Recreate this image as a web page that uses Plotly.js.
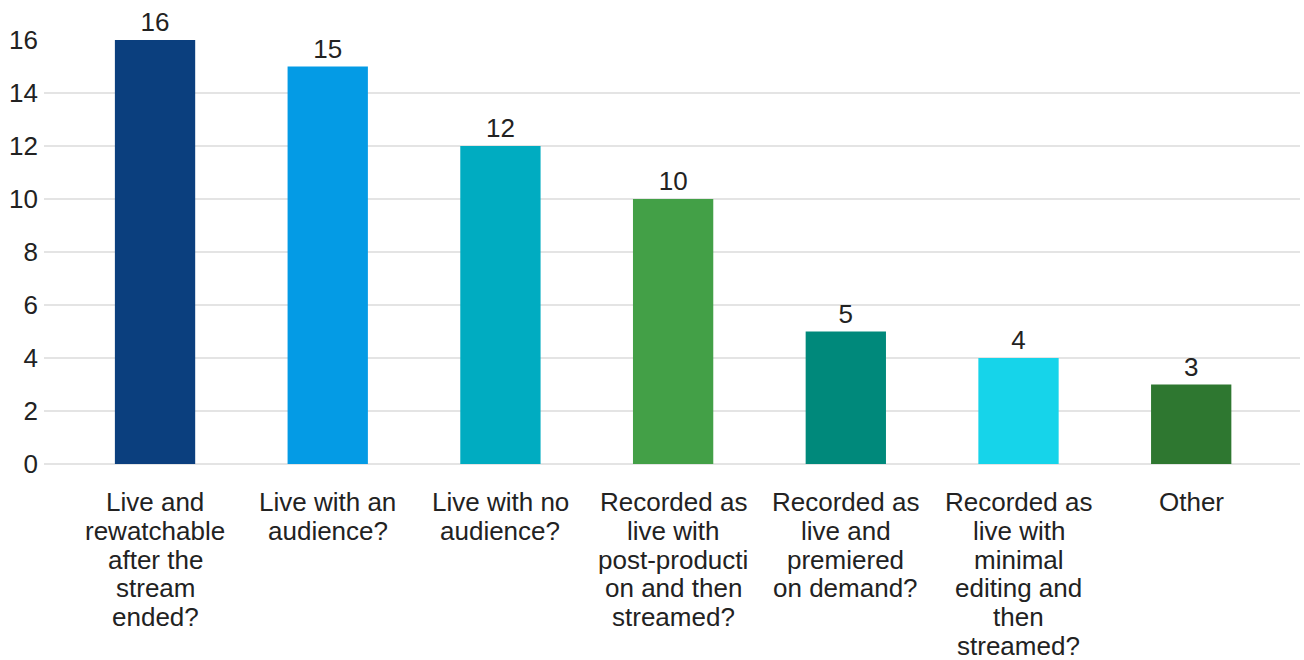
<!DOCTYPE html>
<html>
<head>
<meta charset="utf-8">
<script src="https://cdn.plot.ly/plotly-3.0.1.min.js"></script>
<style>html,body{margin:0;padding:0;background:#fff;}#chart{width:1304px;height:660px;}</style>
</head>
<body>
<div id="chart"></div>
<script>
const categories = [
  "Live and<br>rewatchable<br>after the<br>stream<br>ended?",
  "Live with an<br>audience?",
  "Live with no<br>audience?",
  "Recorded as<br>live with<br>post-producti<br>on and then<br>streamed?",
  "Recorded as<br>live and<br>premiered<br>on demand?",
  "Recorded as<br>live with<br>minimal<br>editing and<br>then<br>streamed?",
  "Other"
];
const values = [16, 15, 12, 10, 5, 4, 3];
const colors = ["#0b3f7e", "#049be5", "#00acc1", "#43a047", "#00897b", "#16d4ea", "#2e7730"];
const yTicks = [0, 2, 4, 6, 8, 10, 12, 14, 16];

const FONT = "Liberation Sans, Arial, sans-serif";
const xIdx = categories.map((c, i) => i);

const trace = {
  type: "bar",
  x: xIdx,
  y: values,
  marker: {color: colors},
  width: 0.465,
  text: values.map(String),
  textposition: "outside",
  cliponaxis: false,
  textfont: {family: FONT, size: 26, color: "#222"},
  hoverinfo: "none"
};

// category labels: one annotation per text line, tighter line spacing than Plotly's default
const annotations = [];
categories.forEach((c, i) => {
  c.split("<br>").forEach((line, j) => {
    annotations.push({
      x: i, xref: "x", y: 0, yref: "y",
      text: line, showarrow: false,
      xanchor: "center", yanchor: "middle",
      yshift: -(38 + 28.8 * j),
      font: {family: FONT, size: 26, color: "#222"}
    });
  });
});

const layout = {
  width: 1304, height: 660,
  margin: {l: 44, r: 4, t: 40, b: 196},
  paper_bgcolor: "#fff", plot_bgcolor: "#fff",
  font: {family: FONT, size: 26, color: "#222"},
  showlegend: false,
  annotations: annotations,
  xaxis: {
    range: [-0.643, 6.63],
    showticklabels: false,
    showgrid: false, zeroline: false, showline: false,
    ticks: ""
  },
  yaxis: {
    range: [0, 16],
    tickmode: "array",
    tickvals: yTicks,
    ticktext: yTicks.map(String),
    showgrid: true, gridcolor: "#e4e4e4", gridwidth: 2,
    zeroline: true, zerolinecolor: "#e4e4e4", zerolinewidth: 2,
    showline: false, ticks: "", ticklabelstandoff: 5,
    tickfont: {family: FONT, size: 26, color: "#222"}
  }
};

Plotly.newPlot("chart", [trace], layout, {displayModeBar: false, staticPlot: true});
</script>
</body>
</html>
